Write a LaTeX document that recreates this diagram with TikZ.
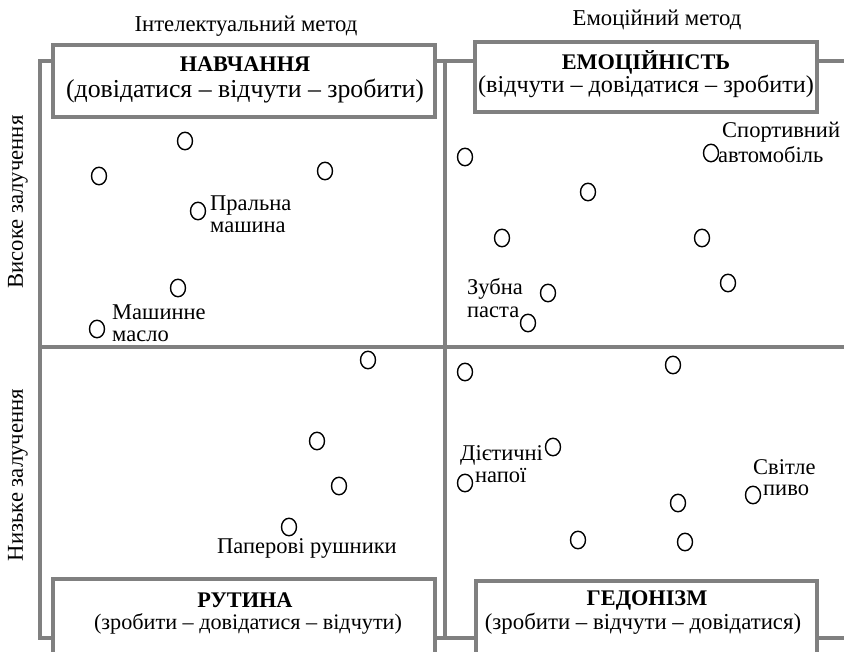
\documentclass[tikz,border=0pt]{standalone}
\usepackage{fontspec}
\setmainfont{Liberation Serif}
\usetikzlibrary{shapes.geometric}
\definecolor{framegray}{RGB}{128,128,128}
\begin{document}
\begin{tikzpicture}[x=1pt,y=-1pt,
  frameline/.style={draw=framegray, line width=3.6pt},
  qbox/.style={draw=framegray, line width=3.6pt, fill=white, inner sep=0pt, rectangle},
  dot/.style={draw=black, line width=1.4pt, ellipse, minimum width=15pt, minimum height=17.5pt, inner sep=0pt},
  lbl/.style={font=\fontsize{22.5}{22.5}\selectfont, inner sep=0pt, align=left},
  axis/.style={font=\fontsize{22.7}{22}\selectfont, inner sep=0pt},
  ttl/.style={font=\fontsize{22.3}{22}\selectfont\bfseries, inner sep=0pt},
]
\useasboundingbox (0,0) rectangle (844,652);
\clip (0,0) rectangle (844,652);
% frame
\coordinate (tl) at (40,61);
\coordinate (tr) at (860,61);
\coordinate (bl) at (40,638);
\coordinate (br) at (860,638);
\coordinate (mt) at (445,61);
\coordinate (mb) at (445,638);
\coordinate (ml) at (40,347);
\coordinate (mr) at (860,347);
\draw[frameline] (tr) -- (tl) -- (bl) -- (br);
\draw[frameline] (mt) -- (mb);
\draw[frameline] (ml) -- (mr);
% quadrant boxes
\node[qbox, minimum width=382pt, minimum height=72pt] (b1) at (244,81) {};
\node[qbox, minimum width=342pt, minimum height=70pt] (b2) at (646,77) {};
\node[qbox, minimum width=382pt, minimum height=120pt] (b3) at (244,639) {};
\node[qbox, minimum width=341pt, minimum height=120pt] (b4) at (646.5,641) {};
% box texts
\node[ttl] (t1) at (245,64) {НАВЧАННЯ};
\node[font=\fontsize{25.8}{22}\selectfont, inner sep=0pt] (s1) at (245,91) {(довідатися – відчути – зробити)};
\node[ttl] (t2) at (646,62) {ЕМОЦІЙНІСТЬ};
\node[font=\fontsize{24.2}{22}\selectfont, inner sep=0pt] (s2) at (646,86) {(відчути – довідатися – зробити)};
\node[ttl] (t3) at (245,600) {РУТИНА};
\node[font=\fontsize{22.2}{22}\selectfont, inner sep=0pt] (s3) at (248,624) {(зробити – довідатися – відчути)};
\node[ttl] (t4) at (647,600) {ГЕДОНІЗМ};
\node[font=\fontsize{22.8}{22}\selectfont, inner sep=0pt] (s4) at (643,624) {(зробити – відчути – довідатися)};
% axis titles
\node[axis] (ax1) at (246,26) {Інтелектуальний метод};
\node[axis] (ax2) at (657,20) {Емоційний метод};
\node[axis, rotate=90] (ax3) at (18,202) {Високе залучення};
\node[axis, rotate=90] (ax4) at (18,475) {Низьке залучення};
% top-left quadrant
\node[dot] (p1) at (185,141) {};
\node[dot] (p2) at (99,176) {};
\node[dot] (p3) at (325,171) {};
\node[dot] (p4) at (198,211) {};
\node[dot] (p5) at (178,288) {};
\node[dot] (p6) at (97,329) {};
\node[lbl, anchor=west] (l4) at (210,214) {Пральна\\машина};
\node[lbl, anchor=west] (l6) at (112,323) {Машинне\\масло};
% top-right quadrant
\node[dot] (q1) at (465,157) {};
\node[dot] (q2) at (588,192) {};
\node[dot] (q3) at (502,238) {};
\node[dot] (q4) at (702,238) {};
\node[dot] (q5) at (728,283) {};
\node[dot] (q6) at (548,293) {};
\node[dot] (q7) at (528,323) {};
\node[dot] (q8) at (711,153) {};
\node[lbl, anchor=west] (l8a) at (722,132) {Спортивний};
\node[lbl, anchor=west] (l8b) at (718,155) {автомобіль};
\node[lbl, anchor=west] (l6q) at (467,298) {Зубна\\паста};
% bottom-left quadrant
\node[dot] (r1) at (368,360) {};
\node[dot] (r2) at (317,441) {};
\node[dot] (r3) at (339,486) {};
\node[dot] (r4) at (289,527) {};
\node[lbl] (l9) at (307,548) {Паперові рушники};
% bottom-right quadrant
\node[dot] (s1d) at (465,372) {};
\node[dot] (s2d) at (673,365) {};
\node[dot] (s3d) at (553,447) {};
\node[dot] (s4d) at (465,483) {};
\node[dot] (s5d) at (678,503) {};
\node[dot] (s6d) at (753,495) {};
\node[dot] (s7d) at (578,540) {};
\node[dot] (s8d) at (685,542) {};
\node[lbl, anchor=west] (l10a) at (460,455) {Дієтичні};
\node[lbl, anchor=west] (l10b) at (475,476) {напої};
\node[lbl, anchor=west] (l11a) at (753,467) {Світле};
\node[lbl, anchor=west] (l11b) at (763,490) {пиво};
\end{tikzpicture}
\end{document}
